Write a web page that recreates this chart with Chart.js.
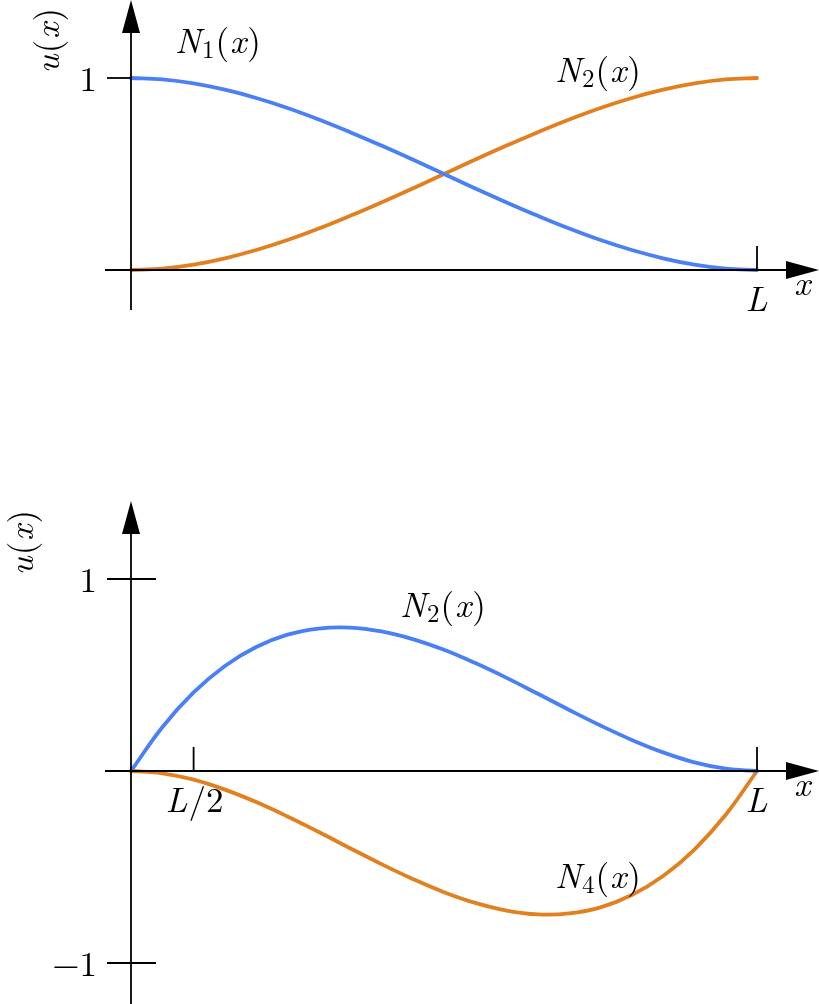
<!DOCTYPE html>
<html>
<head>
<meta charset="utf-8">
<script src="https://cdn.jsdelivr.net/npm/chart.js@4.4.1/dist/chart.umd.min.js"></script>
<style>
    html, body { margin: 0; padding: 0; background: #fff; }
    .panel { position: absolute; left: 0; width: 819px; }
</style>
</head>
<body>
<div class="panel" style="top:0;height:340px"><canvas id="topChart"></canvas></div>
<div class="panel" style="top:490px;height:514px"><canvas id="bottomChart"></canvas></div>
<script>
// x positions as fraction of L
const xValues = [0, 0.05, 0.1, 0.15, 0.2, 0.25, 0.3, 0.35, 0.4, 0.45, 0.5,
    0.55, 0.6, 0.65, 0.7, 0.75, 0.8, 0.85, 0.9, 0.95, 1];

// top panel
const topN1 = [1, 0.993, 0.972, 0.939, 0.896, 0.844, 0.784, 0.718, 0.648, 0.575, 0.5,
    0.425, 0.352, 0.282, 0.216, 0.156, 0.104, 0.061, 0.028, 0.007, 0];
const topN2 = [0, 0.007, 0.028, 0.061, 0.104, 0.156, 0.216, 0.282, 0.352, 0.425, 0.5,
    0.575, 0.648, 0.718, 0.784, 0.844, 0.896, 0.939, 0.972, 0.993, 1];

// bottom panel
const bottomN2 = [0, 0.228, 0.409, 0.547, 0.646, 0.710, 0.742, 0.747, 0.727, 0.687, 0.631,
    0.562, 0.485, 0.402, 0.318, 0.237, 0.162, 0.097, 0.045, 0.012, 0];
const bottomN4 = [0, -0.012, -0.045, -0.097, -0.162, -0.237, -0.318, -0.402, -0.485, -0.562, -0.631,
    -0.687, -0.727, -0.747, -0.742, -0.710, -0.646, -0.547, -0.409, -0.228, 0];

// tick labels
const topYTicks = [{ value: 1, label: '1' }];
const topXTicks = [{ value: 1, label: 'L' }];
const bottomYTicks = [{ value: 1, label: '1' }, { value: -1, label: '\u22121' }];
const bottomXTicks = [{ value: 0.1, label: 'L/2' }, { value: 1, label: 'L' }];

const BLUE = '#4a80f5';
const ORANGE = '#e2801f';
const SERIF = '"Latin Modern Roman", "Liberation Serif", serif';
const FS = 35;

// draws a run of math text: each part is [text, style], style i=italic, r=roman, s=subscript
function drawMath(ctx, parts, x, y, align) {
    const fontFor = s => s === 'i' ? `italic ${FS}px ${SERIF}`
        : s === 's' ? `${Math.round(FS * 0.7)}px ${SERIF}` : `${FS}px ${SERIF}`;
    let total = 0;
    parts.forEach(p => { ctx.font = fontFor(p[1]); total += ctx.measureText(p[0]).width + 1; });
    let cx = align === 'center' ? x - total / 2 : align === 'right' ? x - total : x;
    ctx.textAlign = 'left';
    ctx.textBaseline = 'alphabetic';
    parts.forEach(p => {
        ctx.font = fontFor(p[1]);
        ctx.fillText(p[0], cx, p[1] === 's' ? y + 5 : y);
        cx += ctx.measureText(p[0]).width + 1;
    });
}

function parseLabel(text) {
    if (text === 'L/2') return [['L', 'i'], ['/2', 'r']];
    if (text === 'L') return [['L', 'i']];
    return [[text, 'r']];
}

// custom axes with arrows, ticks and labels
const arrowAxes = {
    id: 'arrowAxes',
    afterDraw(chart, args, opts) {
        const ctx = chart.ctx;
        const xs = chart.scales.x, ys = chart.scales.y;
        const x0 = xs.getPixelForValue(0), y0 = ys.getPixelForValue(0);
        ctx.save();
        ctx.strokeStyle = '#000';
        ctx.fillStyle = '#000';
        ctx.lineWidth = 1.8;
        // y axis
        ctx.beginPath();
        ctx.moveTo(x0, opts.yAxisBottom);
        ctx.lineTo(x0, opts.yAxisTop + 20);
        ctx.stroke();
        ctx.beginPath();
        ctx.moveTo(x0, opts.yAxisTop);
        ctx.lineTo(x0 - 9, opts.yAxisTop + 33);
        ctx.lineTo(x0 + 9, opts.yAxisTop + 33);
        ctx.closePath();
        ctx.fill();
        // x axis
        ctx.beginPath();
        ctx.moveTo(105, y0);
        ctx.lineTo(800, y0);
        ctx.stroke();
        ctx.beginPath();
        ctx.moveTo(819, y0);
        ctx.lineTo(786, y0 - 9);
        ctx.lineTo(786, y0 + 9);
        ctx.closePath();
        ctx.fill();
        // y ticks
        opts.yTicks.forEach(t => {
            const py = ys.getPixelForValue(t.value);
            ctx.beginPath();
            ctx.moveTo(x0 - 24, py);
            ctx.lineTo(x0 + opts.yTickRight, py);
            ctx.stroke();
            drawMath(ctx, parseLabel(t.label), 98, py + 13, 'right');
        });
        // x ticks
        opts.xTicks.forEach(t => {
            const px = xs.getPixelForValue(t.value);
            ctx.beginPath();
            ctx.moveTo(px, y0);
            ctx.lineTo(px, y0 - 24);
            ctx.stroke();
            drawMath(ctx, parseLabel(t.label), t.label === 'L/2' ? 195 : px, y0 + 41, 'center');
        });
        // x axis name
        drawMath(ctx, [['x', 'i']], 794, y0 + 25, 'left');
        // y axis name, rotated
        ctx.save();
        ctx.translate(opts.uX, opts.uY);
        ctx.rotate(-Math.PI / 2);
        drawMath(ctx, [['u', 'i'], ['(', 'r'], ['x', 'i'], [')', 'r']], 0, 0, 'center');
        ctx.restore();
        // curve labels
        opts.curveLabels.forEach(l => {
            drawMath(ctx, [['N', 'i'], [l.sub, 's'], ['(', 'r'], ['x', 'i'], [')', 'r']], l.x, l.y, 'left');
        });
        ctx.restore();
    }
};

function lineDataset(values, color) {
    return {
        data: xValues.map((x, i) => ({ x: x, y: values[i] })),
        borderColor: color,
        borderWidth: 3.8,
        pointRadius: 0,
        tension: 0.4,
        borderCapStyle: 'round',
        clip: false
    };
}

function baseOptions(yMin, yMax, padding, axesOpts) {
    return {
        responsive: true,
        maintainAspectRatio: false,
        animation: false,
        layout: { padding: padding },
        scales: {
            x: { type: 'linear', min: 0, max: 1, display: false },
            y: { type: 'linear', min: yMin, max: yMax, display: false }
        },
        plugins: {
            legend: { display: false },
            tooltip: { enabled: false },
            arrowAxes: axesOpts
        }
    };
}

new Chart(document.getElementById('topChart').getContext('2d'), {
    type: 'line',
    data: { datasets: [lineDataset(topN1, BLUE), lineDataset(topN2, ORANGE)] },
    options: baseOptions(0, 1, { left: 131, right: 62, top: 78, bottom: 70 }, {
        yAxisTop: 0,
        yAxisBottom: 310,
        yTickRight: 0,
        yTicks: topYTicks,
        xTicks: topXTicks,
        uX: 59,
        uY: 40,
        curveLabels: [{ sub: '1', x: 175, y: 53 }, { sub: '2', x: 555, y: 82 }]
    }),
    plugins: [arrowAxes]
});

new Chart(document.getElementById('bottomChart').getContext('2d'), {
    type: 'line',
    data: { datasets: [lineDataset(bottomN2, BLUE), lineDataset(bottomN4, ORANGE)] },
    options: baseOptions(-1, 1, { left: 131, right: 62, top: 89, bottom: 41 }, {
        yAxisTop: 11,
        yAxisBottom: 514,
        yTickRight: 25,
        yTicks: bottomYTicks,
        xTicks: bottomXTicks,
        uX: 33,
        uY: 52,
        curveLabels: [{ sub: '2', x: 400, y: 127 }, { sub: '4', x: 555, y: 398 }]
    }),
    plugins: [arrowAxes]
});
</script>
</body>
</html>
